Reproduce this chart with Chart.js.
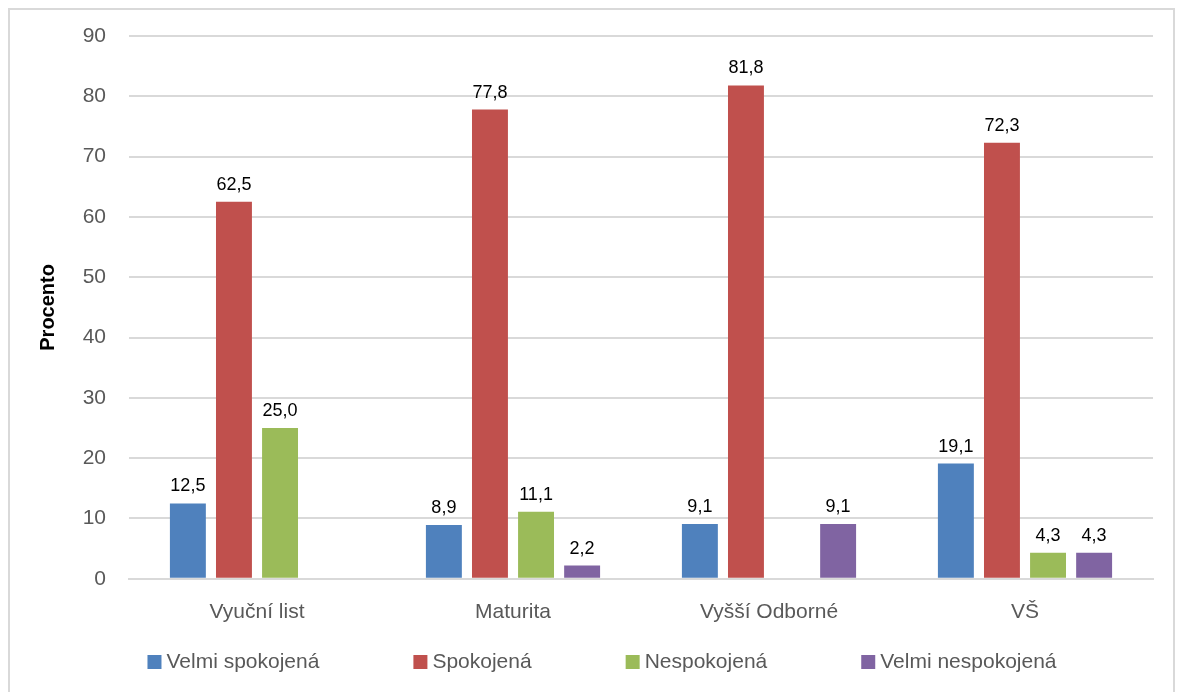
<!DOCTYPE html>
<html>
<head>
<meta charset="utf-8">
<script src="https://cdn.jsdelivr.net/npm/chart.js@4"></script>
<style>
  html, body { margin: 0; padding: 0; background: #fff; }
  #wrap { position: relative; width: 1185px; height: 692px; }
  #frame { position: absolute; left: 8px; top: 8px; width: 1163px; height: 700px;
           border: 2px solid #d9d9d9; pointer-events: none; }
</style>
</head>
<body>
<div id="wrap">
  <canvas id="chart" width="1185" height="692"></canvas>
  <div id="frame"></div>
</div>
<script>
const categories = ["Vyuční list", "Maturita", "Vyšší Odborné", "VŠ"];
const seriesNames = ["Velmi spokojená", "Spokojená", "Nespokojená", "Velmi nespokojená"];
const velmiSpokojena = [12.5, 8.9, 9.1, 19.1];
const spokojena = [62.5, 77.8, 81.8, 72.3];
const nespokojena = [25.0, 11.1, null, 4.3];
const velmiNespokojena = [null, 2.2, 9.1, 4.3];
const colors = ["#4f81bd", "#c0504d", "#9bbb59", "#8064a2"];

const FONT = "'Liberation Sans', Arial, sans-serif";

// data labels above each bar, czech decimal comma
const barLabels = {
  id: "barLabels",
  afterDatasetsDraw(chart) {
    const ctx = chart.ctx;
    ctx.save();
    ctx.font = "18px " + FONT;
    ctx.fillStyle = "#000";
    ctx.textAlign = "center";
    ctx.textBaseline = "bottom";
    chart.data.datasets.forEach((ds, i) => {
      const meta = chart.getDatasetMeta(i);
      meta.data.forEach((bar, j) => {
        const v = ds.data[j];
        if (v === null || v === undefined) return;
        ctx.fillText(v.toFixed(1).replace(".", ","), bar.x, bar.y - 8);
      });
    });
    ctx.restore();
  }
};

// legend drawn by hand so the spacing between items can be wide
const wideLegend = {
  id: "wideLegend",
  afterDraw(chart) {
    const ctx = chart.ctx;
    ctx.save();
    ctx.font = "21px " + FONT;
    ctx.textBaseline = "middle";
    const box = 14, gap = 5, space = 94;
    const widths = chart.data.datasets.map(d => ctx.measureText(d.label).width);
    const total = widths.reduce((a, w) => a + box + gap + w, 0) + space * (widths.length - 1);
    let x = 602 - total / 2;
    const y = 662;
    chart.data.datasets.forEach((d, i) => {
      ctx.fillStyle = d.backgroundColor;
      ctx.fillRect(x, y - 7, box, box);
      ctx.fillStyle = "#595959";
      ctx.fillText(d.label, x + box + gap, y);
      x += box + gap + widths[i] + space;
    });
    ctx.restore();
  }
};

const allSeries = [velmiSpokojena, spokojena, nespokojena, velmiNespokojena];

new Chart(document.getElementById("chart"), {
  type: "bar",
  data: {
    labels: categories,
    datasets: allSeries.map((vals, i) => ({
      label: seriesNames[i],
      data: vals,
      backgroundColor: colors[i],
      categoryPercentage: 0.72,
      barPercentage: 0.78
    }))
  },
  options: {
    responsive: false,
    animation: false,
    layout: { padding: { left: 36, right: 32, top: 36, bottom: 54 } },
    plugins: {
      tooltip: { enabled: false },
      legend: { display: false }
    },
    scales: {
      x: {
        grid: { display: false },
        border: { color: "#d9d9d9", width: 2 },
        ticks: { font: { family: FONT, size: 21 }, color: "#595959", padding: 13 }
      },
      y: {
        min: 0,
        max: 90,
        ticks: { stepSize: 10, font: { family: FONT, size: 21 }, color: "#595959", padding: 23 },
        grid: { color: "#d9d9d9", lineWidth: 2, drawTicks: false },
        border: { display: false },
        title: {
          display: true,
          text: "Procento",
          color: "#000",
          font: { family: FONT, size: 20, weight: "bold" },
          padding: { top: 0, bottom: 0 }
        },
        afterFit(scale) { scale.width = 93; }
      }
    }
  },
  plugins: [barLabels, wideLegend]
});
</script>
</body>
</html>
